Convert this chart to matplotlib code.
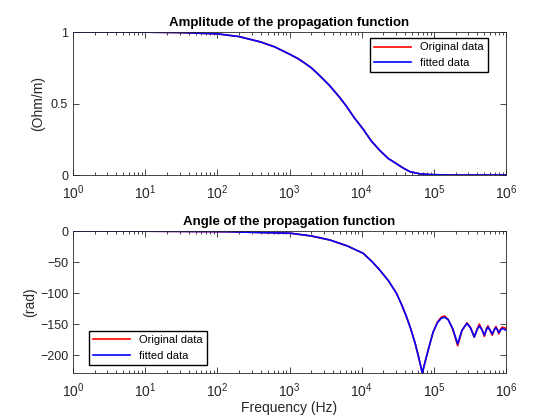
import numpy as np
import matplotlib
matplotlib.use("Agg")
import matplotlib.pyplot as plt
from matplotlib.ticker import LogLocator, NullFormatter

plt.rcParams['font.family'] = ['Liberation Sans', 'DejaVu Sans']
plt.rcParams['mathtext.fontset'] = 'custom'
plt.rcParams['mathtext.rm'] = 'Liberation Sans'
plt.rcParams['mathtext.it'] = 'Liberation Sans:italic'
plt.rcParams['mathtext.bf'] = 'Liberation Sans:bold'

# amplitude of the propagation function
amp_freq = [1, 10, 32, 100, 200, 400, 630, 1000, 1300, 1600, 2000, 2500, 3000,
            3600, 5000, 6200, 7900, 10500, 13500, 17800, 23400, 30200,
            37200, 46800, 63000, 89000, 158000, 1000000]
amp_orig = [1.0, 0.999, 0.996, 0.987, 0.968, 0.93, 0.895, 0.845, 0.815, 0.785,
            0.75, 0.705, 0.665, 0.625, 0.54, 0.478, 0.4, 0.32, 0.24, 0.172,
            0.115, 0.08, 0.05, 0.023, 0.009, 0.003, 0.0, 0.0]
amp_fit = amp_orig

# angle of the propagation function (rad)
ang_freq = [1, 10, 100, 148, 1050, 2000, 3630, 6300, 10500, 14100, 17800,
            23400, 30200, 35500, 41700, 47900, 55000, 61700, 69200, 77600,
            87100, 97700, 112000, 126000, 141000, 158000, 182000, 214000,
            245000, 288000, 324000, 363000, 398000, 427000, 468000, 501000,
            537000, 562000, 603000, 646000, 692000, 724000, 759000, 794000,
            851000, 891000, 1000000]
ang_orig = [0, -0.3, -1, -1.2, -3.7, -8, -14.5, -24, -36, -50, -63,
            -80, -100, -118, -138, -158, -181, -204, -229, -206,
            -184, -163, -147, -139, -137, -143, -158, -185,
            -161, -148, -156, -171, -158, -150, -160, -170,
            -157, -153, -161, -168, -158, -154, -159, -166,
            -157, -155, -157]
ang_fit = [0, -0.3, -1, -1.2, -3.7, -8, -14.5, -24, -36, -50, -63,
           -80, -100, -118, -138, -158, -181, -204, -229, -206,
           -184, -163, -148, -141, -139, -143, -157, -182,
           -160, -149, -157, -171, -159, -153, -160, -168,
           -159, -155, -160, -166, -159, -156, -159, -164,
           -159, -157, -160]

fig = plt.figure(figsize=(5.6, 4.2), dpi=100)
ax1 = fig.add_axes([0.1304, 0.5833, 0.7732, 0.3405])
ax2 = fig.add_axes([0.1304, 0.1119, 0.7732, 0.3381])

ax1.semilogx(amp_freq, amp_orig, color='r', lw=1.2, label='Original data')
ax1.semilogx(amp_freq, amp_fit, color='b', lw=1.2, label='fitted data')
ax1.set_ylim(0, 1)
ax1.set_yticks([0, 0.5, 1])
ax1.set_yticklabels(['0', '0.5', '1'])
ax1.set_ylabel('(Ohm/m)', labelpad=4)
ax1.set_title('Amplitude of the propagation function', fontweight='bold', fontsize=9.5, pad=4)
ax1.legend(loc='upper right', bbox_to_anchor=(0.958, 0.958), borderaxespad=0,
           fontsize=8, fancybox=False, edgecolor='k', framealpha=1, handlelength=3.3)

ax2.semilogx(ang_freq, ang_orig, color='r', lw=1.2, label='Original data')
ax2.semilogx(ang_freq, ang_fit, color='b', lw=1.2, label='fitted data')
ax2.set_ylim(-229, 0)
ax2.set_yticks([-200, -150, -100, -50, 0])
ax2.set_ylabel('(rad)', labelpad=2)
ax2.set_xlabel('Frequency (Hz)', labelpad=1)
ax2.set_title('Angle of the propagation function', fontweight='bold', fontsize=9.5, pad=4)
ax2.legend(loc='lower left', bbox_to_anchor=(0.037, 0.056), borderaxespad=0,
           fontsize=8, fancybox=False, edgecolor='k', framealpha=1, handlelength=3.3)

for ax in (ax1, ax2):
    ax.set_xlim(1, 1e6)
    ax.xaxis.set_major_locator(LogLocator(base=10, numticks=10))
    ax.xaxis.set_minor_locator(LogLocator(base=10, subs=np.arange(2, 10), numticks=20))
    ax.xaxis.set_minor_formatter(NullFormatter())
    ax.tick_params(which='both', direction='in', top=True, right=True,
                   labelsize=9, colors='0.15', width=0.6)
    ax.tick_params(which='major', length=4)
    ax.tick_params(which='minor', length=2)
    ax.tick_params(axis='x', which='major', pad=6, labelsize=10)
    for s in ax.spines.values():
        s.set_color('0.15')
        s.set_linewidth(0.6)
    ax.xaxis.label.set_color('0.15')
    ax.yaxis.label.set_color('0.15')

fig.savefig('out.png', dpi=100)
